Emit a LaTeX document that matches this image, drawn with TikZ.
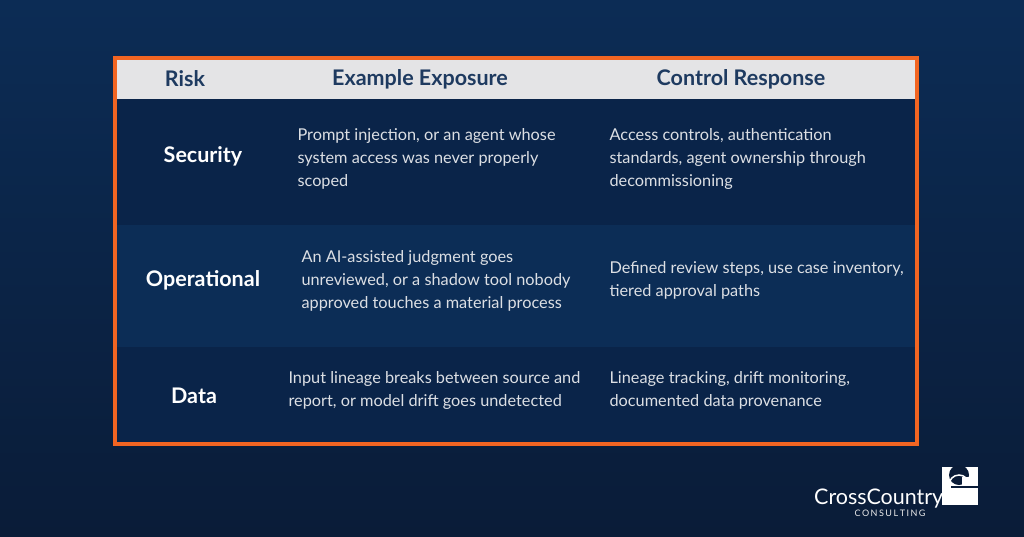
\documentclass[tikz,border=0pt]{standalone}
\usepackage{fontspec}
\setmainfont{Lato}
\begin{document}
\begin{tikzpicture}[x=1pt,y=-1pt,
  hdr/.style={font=\fontsize{21.5}{24}\selectfont\bfseries, text=hdrc},
  risk/.style={font=\fontsize{21.5}{24}\selectfont\bfseries, text=white},
  body/.style={font=\fontsize{16.3}{23}\selectfont, text=bodyc, anchor=west, align=left}]
\definecolor{bgA}{HTML}{0C2C55}
\definecolor{bgB}{HTML}{0A1C38}
\definecolor{rowA}{HTML}{0A2449}
\definecolor{rowB}{HTML}{0C2D56}
\definecolor{hdrbg}{HTML}{E4E4E6}
\definecolor{hdrc}{HTML}{1E3A60}
\definecolor{bodyc}{HTML}{DCDFE4}
\definecolor{org}{HTML}{F26522}
\useasboundingbox (0,0) rectangle (1024,536);
\shade[top color=bgA, bottom color=bgB] (0,0) rectangle (1024,536);
\fill[rowA] (115,99) rectangle (917,225);
\fill[rowB] (115,225) rectangle (917,347);
\fill[rowA] (115,347) rectangle (917,444);
\fill[hdrbg] (115,58) rectangle (917,99);
\draw[org, line width=3.5pt] (115,58) rectangle (917,444);
\node[hdr] (h1) at (185,79) {Risk};
\node[hdr] (h2) at (420,79) {Example Exposure};
\node[hdr] (h3) at (741,79) {Control Response};
\node[risk] (r1) at (203,156) {Security};
\node[risk] (r2) at (203,280) {Operational};
\node[risk] (r3) at (194,396) {Data};
\node[body] (e1) at (294,159) {Prompt injection, or an agent whose\\system access was never properly\\scoped};
\node[body] (e2) at (298,281) {An AI-assisted judgment goes\\unreviewed, or a shadow tool nobody\\approved touches a material process};
\node[body] (e3) at (285,390) {Input lineage breaks between source and\\report, or model drift goes undetected};
\node[body] (c1) at (606,159) {Access controls, authentication\\standards, agent ownership through\\decommissioning};
\node[body] (c2) at (606,280) {Defined review steps, use case inventory,\\tiered approval paths};
\node[body] (c3) at (606,390) {Lineage tracking, drift monitoring,\\documented data provenance};
% logo
\fill[white] (942,467) rectangle (978,505);
\fill[bgB] (959,475) circle (10);
\fill[white] (962,477) rectangle (978,502);
\draw[bgB, line width=1.2pt] (951,487) -- (978,487);
\draw[white, line width=1.5pt] (969,485) arc (0:-180:10);
\node[font=\fontsize{21.5}{22}\selectfont, text=white, anchor=south west, inner sep=0] (lg) at (814,508) {CrossCountry};
\node[font=\fontsize{9}{9}\selectfont, text=white!85!gray, anchor=north, inner sep=0] (lg2) at (890,510) {C\,O\,N\,S\,U\,L\,T\,I\,N\,G};
\end{tikzpicture}
\end{document}
